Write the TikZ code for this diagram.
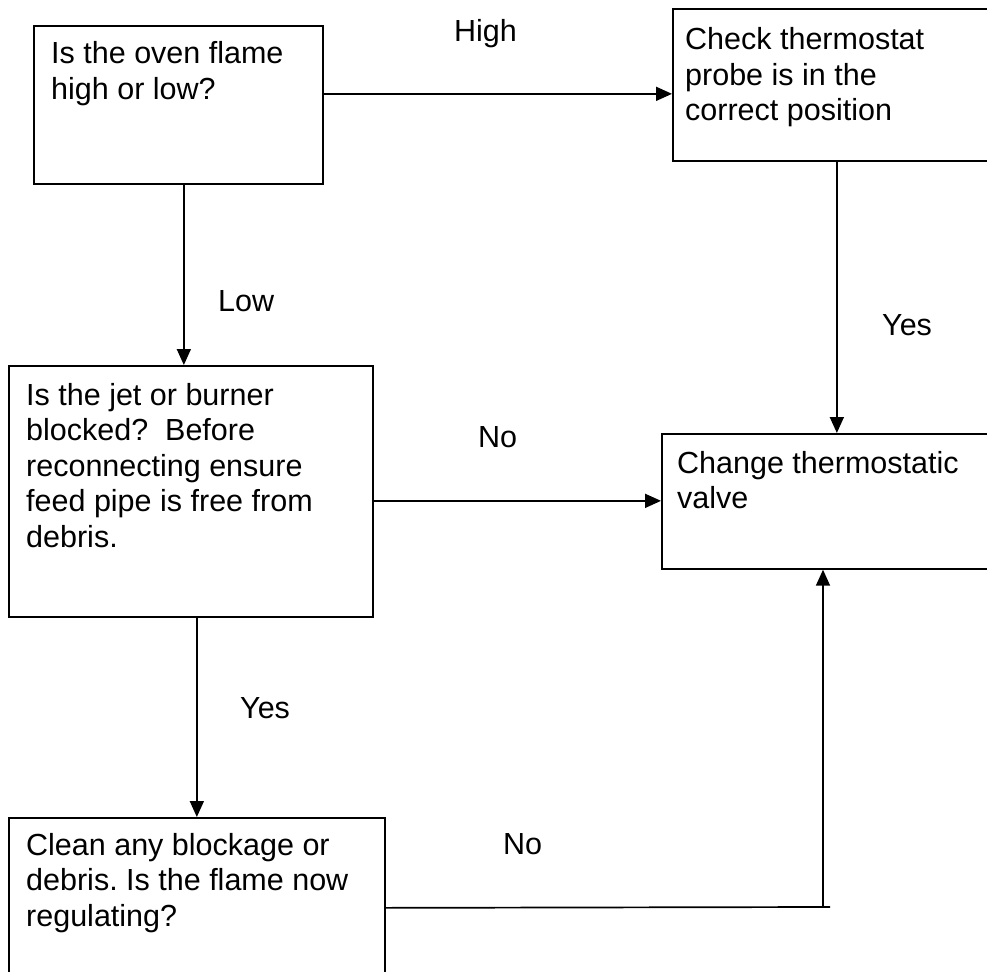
\documentclass[tikz,border=0pt]{standalone}
\usepackage{fontspec}
\setmainfont{Liberation Sans}
\usetikzlibrary{arrows.meta}
\frenchspacing
\begin{document}
\begin{tikzpicture}[x=1pt,y=-1pt,
  box/.style={draw, line width=1.7pt, inner sep=0pt, anchor=north west},
  txt/.style={anchor=base west, inner sep=0pt, font=\fontsize{30.5}{35.5}\selectfont},
  lbl/.style={anchor=base west, inner sep=0pt, font=\fontsize{30.5}{35.5}\selectfont},
  conn/.style={line width=1.7pt},
  arr/.style={conn, -{Triangle[length=16pt,width=14pt]}}]
\useasboundingbox (0,0) rectangle (987,971);
\clip (0,0) rectangle (987,971);
% boxes
\node[box, minimum width=289pt, minimum height=158pt] (q1) at (33,25) {};
\node[box, minimum width=328pt, minimum height=152pt] (probe) at (672,8) {};
\node[box, minimum width=364pt, minimum height=251pt] (jet) at (8,365) {};
\node[box, minimum width=339pt, minimum height=135pt] (valve) at (661,433) {};
\node[box, minimum width=376pt, minimum height=183pt] (clean) at (8,817) {};
% box texts
\node[txt] (q1t) at (51,64) {\parbox[t]{280pt}{\raggedright Is the oven flame\\high or low?}};
\node[txt] (probet) at (685,50) {\parbox[t]{300pt}{\raggedright Check thermostat\\probe is in the\\correct position}};
\node[txt] (jett) at (26,405) {\parbox[t]{340pt}{\raggedright Is the jet or burner\\blocked?\ \ Before\\reconnecting ensure\\feed pipe is free from\\debris.}};
\node[txt] (valvet) at (677,473) {\parbox[t]{310pt}{\raggedright Change thermostatic\\valve}};
\node[txt] (cleant) at (26,855) {\parbox[t]{360pt}{\raggedright Clean any blockage or\\debris. Is the flame now\\regulating?}};
% connectors
\draw[arr] ([yshift=11pt]q1.east) -- ([yshift=11pt]q1.east -| probe.west);
\draw[arr] ([xshift=5.5pt]q1.south) -- ([xshift=5.5pt]q1.south |- jet.north);
\draw[arr] (probe.south) -- (probe.south |- valve.north);
\draw[arr] ([yshift=-9.5pt]jet.east) -- ([yshift=-9.5pt]jet.east -| valve.west);
\draw[arr] ([xshift=6pt]jet.south) -- ([xshift=6pt]jet.south |- clean.north);
\coordinate (turn) at (823,907);
\draw[conn] ([yshift=1.5pt]clean.east) -- (turn) -- ++(7,0);
\draw[arr] (turn) -- (turn |- valve.south);
% labels
\node[lbl] (high) at (454,42) {High};
\node[lbl] (low) at (218,311) {Low};
\node[lbl] (yes1) at (882,335) {Yes};
\node[lbl] (no1) at (478,447) {No};
\node[lbl] (yes2) at (240,718) {Yes};
\node[lbl] (no2) at (503,854) {No};
\end{tikzpicture}
\end{document}
